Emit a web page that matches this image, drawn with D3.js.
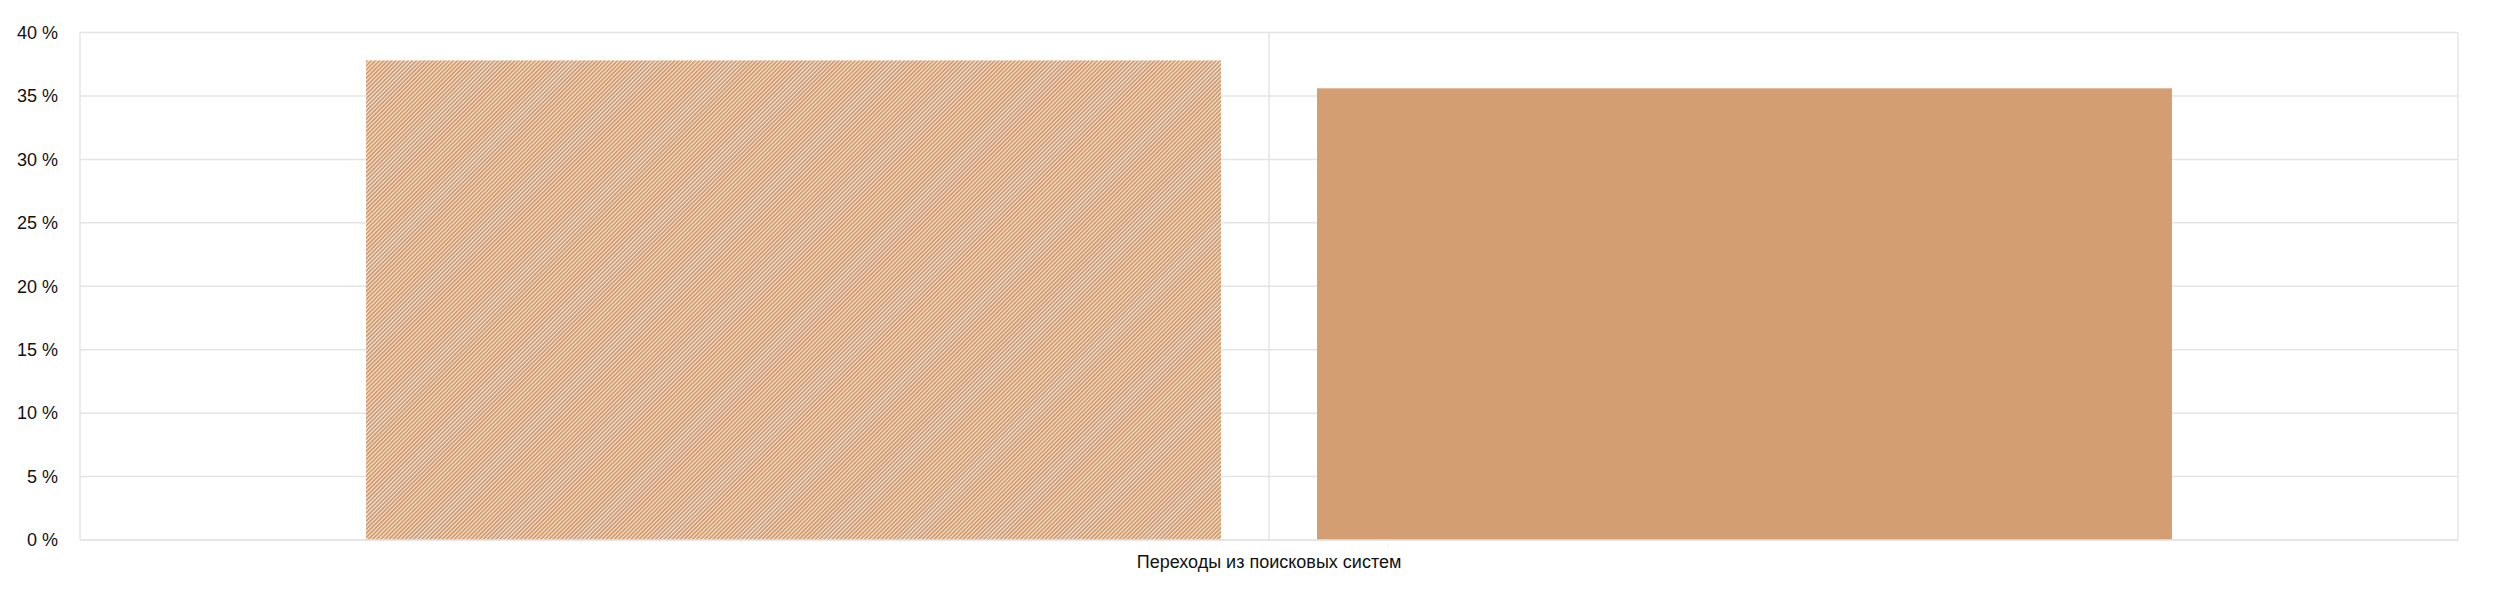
<!DOCTYPE html>
<html>
<head>
<meta charset="utf-8">
<script src="https://cdn.jsdelivr.net/npm/d3@7"></script>
<style>
  html, body { margin: 0; padding: 0; background: #fff; }
  svg { display: block; }
  text { font-family: "Liberation Sans", Arial, Helvetica, sans-serif; fill: #111; }
</style>
</head>
<body>
<svg id="chart" width="2514" height="590"></svg>
<script>
const categories = ["Переходы из поисковых систем"];
const seriesNames = ["A", "B"];
const seriesValues = [[37.8], [35.6]];
const yTicks = [0, 5, 10, 15, 20, 25, 30, 35, 40];
const yTickLabels = ["0 %", "5 %", "10 %", "15 %", "20 %", "25 %", "30 %", "35 %", "40 %"];

const W = 2514, H = 590;
const margin = { left: 80, right: 56, top: 32.5, bottom: 50 };
const svg = d3.select("#chart");
const color = "#d39f72";
const gridColor = "#e4e4e4";

const defs = svg.append("defs");
const pat = defs.append("pattern")
  .attr("id", "hatch").attr("patternUnits", "userSpaceOnUse")
  .attr("width", 2.9).attr("height", 2.9)
  .attr("patternTransform", "rotate(45)");
pat.append("rect").attr("width", 2.9).attr("height", 2.9).attr("fill", "#fff");
pat.append("rect").attr("width", 2.15).attr("height", 2.9).attr("fill", color);

const x0 = d3.scaleBand().domain(categories)
  .range([margin.left, W - margin.right]).paddingInner(0).paddingOuter(0);
const x1 = d3.scaleBand().domain(seriesNames)
  .range([0, x0.bandwidth()]).paddingInner(0.101).paddingOuter(0.3008);
const y = d3.scaleLinear().domain([0, 40]).range([H - margin.bottom, margin.top]);

// horizontal grid
svg.append("g").selectAll("line").data(yTicks).join("line")
  .attr("x1", margin.left).attr("x2", W - margin.right)
  .attr("y1", d => y(d)).attr("y2", d => y(d))
  .attr("stroke", gridColor).attr("stroke-width", 1.5);

// vertical grid: plot edges and category center
const vLines = [margin.left, W - margin.right];
categories.forEach(c => { vLines.push(x0(c) + x0.bandwidth() / 2); });
svg.append("g").selectAll("line").data(vLines).join("line")
  .attr("x1", d => d).attr("x2", d => d)
  .attr("y1", margin.top).attr("y2", H - margin.bottom)
  .attr("stroke", gridColor).attr("stroke-width", 1.5);

// bars
const fills = ["url(#hatch)", color];
categories.forEach((c, ci) => {
  seriesNames.forEach((s, si) => {
    const v = seriesValues[si][ci];
    svg.append("rect")
      .attr("x", x0(c) + x1(s))
      .attr("width", x1.bandwidth())
      .attr("y", y(v))
      .attr("height", y(0) - y(v))
      .attr("fill", fills[si]);
  });
});

// bottom axis line over bars
svg.append("line")
  .attr("x1", margin.left).attr("x2", W - margin.right)
  .attr("y1", y(0)).attr("y2", y(0))
  .attr("stroke", gridColor).attr("stroke-width", 1.5);

// y tick labels
svg.append("g").selectAll("text").data(yTicks).join("text")
  .attr("x", 58).attr("y", d => y(d))
  .attr("dy", "0.35em")
  .attr("text-anchor", "end")
  .attr("font-size", 18)
  .text((d, i) => yTickLabels[i]);

// x labels
svg.append("g").selectAll("text").data(categories).join("text")
  .attr("x", d => x0(d) + x0.bandwidth() / 2)
  .attr("y", 568)
  .attr("text-anchor", "middle")
  .attr("font-size", 18)
  .text(d => d);
</script>
</body>
</html>
